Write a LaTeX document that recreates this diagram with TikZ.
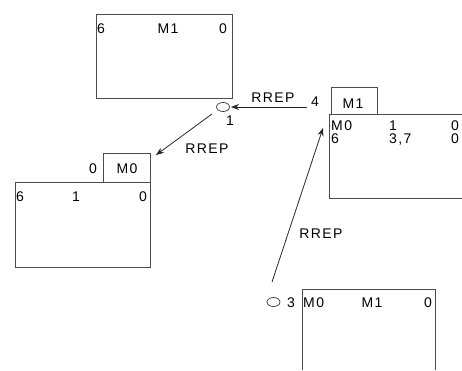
\documentclass[tikz,border=0pt]{standalone}
\usepackage{fontspec}
\setmainfont{Liberation Sans}[LetterSpace=10]
\usetikzlibrary{arrows.meta,shapes.geometric}
\begin{document}
\begin{tikzpicture}[x=1pt,y=-1pt,
  font=\fontsize{14}{16}\selectfont,
  boxline/.style={draw=black!70,line width=0.9pt},
  lbl/.style={inner sep=0pt,anchor=base},
  lblw/.style={inner sep=0pt,anchor=base west},
  lble/.style={inner sep=0pt,anchor=base east},
  node hole/.style={ellipse,draw=black!80,line width=0.7pt,minimum width=13pt,minimum height=9pt,inner sep=0pt},
  tagbox/.style={boxline,rectangle,inner sep=0pt},
  arr/.style={draw=black!85,line width=0.8pt,-{Stealth[length=8pt,width=6pt]}}]
\useasboundingbox (0,0) rectangle (462,370);
% top box
\draw[boxline] (96,14) rectangle (232,98);
\node[lblw] (t6) at (97,33) {6};
\node[lbl] (tM1) at (168,33) {M1};
\node[lble] (t0) at (227,33) {0};
\node[node hole] (c1) at (223,107) {};
\node[lbl] (n1) at (230,125) {1};
% bottom-left
\draw[boxline] (103,153) rectangle (150,182);
\node[lbl] (lM0) at (127,173) {M0};
\node[lbl] (l0) at (93,173) {0};
\draw[boxline] (15,182) rectangle (150,267);
\node[lblw] (l6) at (16,201) {6};
\node[lbl] (l1) at (76,201) {1};
\node[lble] (l0b) at (147,201) {0};
% right
\draw[boxline] (331,87) rectangle (377,114);
\node[lbl] (rM1) at (353,108) {M1};
\node[lbl] (r4) at (315,106) {4};
\draw[boxline] (462,114) -- (329,114) -- (329,198) -- (462,198);
\node[lblw] (rM0) at (331,130) {M0};
\node[lbl] (r1) at (393,130) {1};
\node[lble] (r0) at (459,130) {0};
\node[lblw] (r6) at (331,143) {6};
\node[lblw] (r37) at (389,143) {3,7};
\node[lble] (r0b) at (459,143) {0};
% bottom-right
\draw[boxline] (302,370) -- (302,289) -- (435,289) -- (435,370);
\node[node hole] (c3) at (273.5,302) {};
\node[lbl] (n3) at (291,307) {3};
\node[lblw] (bM0) at (303,307) {M0};
\node[lbl] (bM1) at (372,307) {M1};
\node[lble] (b0) at (432,307) {0};
% arrows
\coordinate (a1s) at (307,107);
\coordinate (a1e) at (231,107);
\draw[arr] (a1s) -- (a1e);
\node[lbl] (rr1) at (273,102) {RREP};
\coordinate (a2s) at (212,114);
\coordinate (a2e) at (156,155);
\draw[arr] (a2s) -- (a2e);
\node[lbl] (rr2) at (207,153) {RREP};
\coordinate (a3s) at (272,282);
\coordinate (a3e) at (323,128);
\draw[arr] (a3s) -- (a3e);
\node[lbl] (rr3) at (321,238) {RREP};
\end{tikzpicture}
\end{document}
